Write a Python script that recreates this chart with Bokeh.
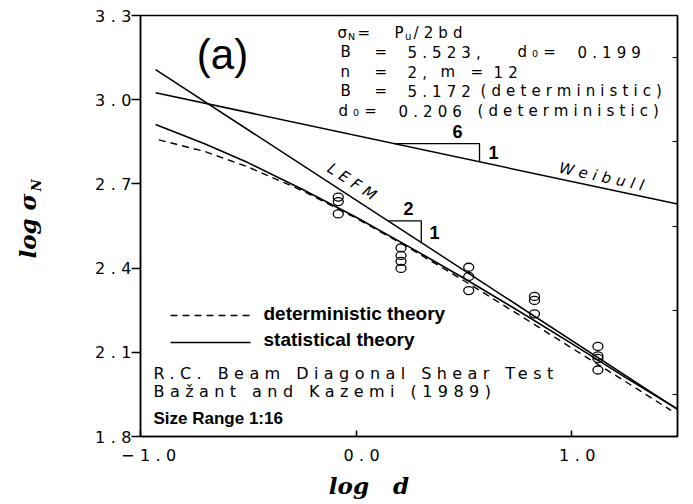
import numpy as np
from bokeh.plotting import figure
from bokeh.models import Range1d, FixedTicker, LinearAxis, CustomJS, PrintfTickFormatter
from bokeh.core.properties import value
from bokeh.document import Document
from bokeh.embed import file_html
from bokeh.resources import INLINE

# ---- test results: R.C. beam diagonal shear (Bazant & Kazemi 1989) ----
log_d_tests = [-0.083, -0.083, -0.083,
               0.208, 0.208, 0.208, 0.208,
               0.522, 0.522, 0.522,
               0.827, 0.827, 0.827,
               1.121, 1.121, 1.121, 1.121]
log_sigma_tests = [2.653, 2.637, 2.593,
                   2.472, 2.445, 2.424, 2.399,
                   2.403, 2.370, 2.320,
                   2.299, 2.285, 2.237,
                   2.121, 2.087, 2.078, 2.037]

# ---- theory curves ----
stat_log_d = [-0.93, -0.70, -0.50, -0.25, 0.00, 0.25, 0.50, 0.75, 1.00, 1.25, 1.49]
stat_log_sigma = [2.912, 2.842, 2.775, 2.681, 2.581, 2.474, 2.364, 2.249, 2.131, 2.010, 1.898]

det_log_d = [-0.915, -0.70, -0.50, -0.25, 0.00, 0.25, 0.50, 0.75, 1.00, 1.25, 1.46]
det_log_sigma = [2.857, 2.815, 2.760, 2.676, 2.578, 2.470, 2.355, 2.236, 2.115, 1.995, 1.893]

lefm_log_d = [-0.93, 1.49]
lefm_log_sigma = [3.107, 1.897]

weibull_log_d = [-0.93, 1.49]
weibull_log_sigma = [3.025, 2.628]

x_ticks = [-1.0, 0.0, 1.0]
x_tick_labels = {-1.0: "\u22121.0", 0.0: "0.0", 1.0: "1.0"}
y_ticks = [1.8, 2.1, 2.4, 2.7, 3.0, 3.3]
right_ticks = [1.95, 2.25, 2.55, 2.85, 3.15]

# ---- frame geometry (pixels) and pixel -> data helpers for annotations ----
X0, X1, Y0, Y1 = -1.0, 1.49, 1.8, 3.3
W, H = 693, 504
FL, FR, FT, FB = 140, 677, 15, 436


def dx(px):
    return X0 + (px - FL) * (X1 - X0) / (FR - FL)


def dy(py):
    return Y1 - (py - FT) * (Y1 - Y0) / (FB - FT)


p = figure(width=W, height=H, x_range=Range1d(X0, X1), y_range=Range1d(Y0, Y1),
           output_backend="svg", toolbar_location=None,
           min_border_left=FL, min_border_right=W - FR,
           min_border_top=FT, min_border_bottom=H - FB)
p.background_fill_color = "white"
p.border_fill_color = "white"
p.xgrid.visible = False
p.ygrid.visible = False
p.outline_line_color = "black"
p.outline_line_width = 1.5

SPACED = "DejaVu Sans"
TITLE_FONT = "DejaVu Serif"
NBSP = "\u00a0"

xa = p.xaxis[0]
xa.ticker = FixedTicker(ticks=x_ticks)
xa.formatter = PrintfTickFormatter(format="%.1f")
xa.major_label_overrides = x_tick_labels
xa.major_tick_in = 6
xa.major_tick_out = 0
xa.minor_tick_line_color = None
xa.axis_line_width = 1.5
xa.major_tick_line_width = 1.5
xa.major_label_text_font = SPACED
xa.major_label_text_font_size = "16px"
xa.major_label_text_color = "black"
xa.major_label_standoff = 12
# x title, nudged left of the frame centre by trailing no-break spaces
xa.axis_label = "log" + NBSP * 3 + "d" + NBSP * 10
xa.axis_label_text_font = TITLE_FONT
xa.axis_label_text_font_style = "bold italic"
xa.axis_label_text_font_size = "23px"
xa.axis_label_text_color = "black"
xa.axis_label_standoff = 8

# inner y axis: ticks, tick labels and the subscript of the title
ya = p.yaxis[0]
ya.ticker = FixedTicker(ticks=y_ticks)
ya.formatter = PrintfTickFormatter(format="%.1f")
ya.major_tick_in = 0
ya.major_tick_out = 9
ya.minor_tick_line_color = None
ya.axis_line_width = 1.5
ya.major_tick_line_width = 1.5
ya.major_label_text_font = SPACED
ya.major_label_text_font_size = "16px"
ya.major_label_text_color = "black"
ya.major_label_standoff = 11
ya.axis_label = NBSP * 18 + "N"
ya.axis_label_text_font = TITLE_FONT
ya.axis_label_text_font_style = "bold italic"
ya.axis_label_text_font_size = "13px"
ya.axis_label_text_color = "black"
ya.axis_label_standoff = 48

# outer y axis: carries only the main part of the title, pulled in next to the subscript
y_title = LinearAxis(ticker=FixedTicker(ticks=[]), major_tick_in=0, major_tick_out=0,
                     minor_tick_line_color=None, axis_line_color=None,
                     major_label_standoff=0, axis_label="log \u03c3",
                     axis_label_text_font=TITLE_FONT, axis_label_text_font_style="bold italic",
                     axis_label_text_font_size="23px", axis_label_text_color="black",
                     axis_label_standoff=-14)
p.add_layout(y_title, "left")

ra = LinearAxis(ticker=FixedTicker(ticks=right_ticks), major_tick_in=5, major_tick_out=0,
                minor_tick_line_color=None, major_label_text_color=None,
                major_label_overrides={t: "" for t in right_ticks},
                major_label_standoff=0, axis_line_width=1.5, major_tick_line_width=1.2)
p.add_layout(ra, "right")

# ---- curves ----
p.line(lefm_log_d, lefm_log_sigma, line_color="black", line_width=1.5)
p.line(weibull_log_d, weibull_log_sigma, line_color="black", line_width=1.5)
p.line(stat_log_d, stat_log_sigma, line_color="black", line_width=1.6)
p.line(det_log_d, det_log_sigma, line_color="black", line_width=1.4, line_dash="7 5")

# slope triangles on the LEFM (2:1) and Weibull (6:1) asymptotes
lx = [0.147, 0.302]
ly_top = float(np.interp(lx[0], lefm_log_d, lefm_log_sigma))
ly_bot = float(np.interp(lx[1], lefm_log_d, lefm_log_sigma))
p.line([lx[0], lx[1], lx[1]], [ly_top, ly_top, ly_bot], line_color="black", line_width=1.3)

wx = [0.178, 0.572]
wy_top = float(np.interp(wx[0], weibull_log_d, weibull_log_sigma))
wy_bot = float(np.interp(wx[1], weibull_log_d, weibull_log_sigma))
p.line([wx[0], wx[1], wx[1]], [wy_top, wy_top, wy_bot], line_color="black", line_width=1.3)

# ---- test points ----
p.ellipse(x=log_d_tests, y=log_sigma_tests, width=10, height=8,
          width_units="screen", height_units="screen",
          fill_color=None, line_color="black", line_width=1.3)


def put(px_x, px_y, txt, size, font=SPACED, style="normal", align="left",
        baseline="middle", angle=0.0):
    p.text(x=[dx(px_x)], y=[dy(px_y)], text=[txt], text_font=value(font),
           text_font_size=f"{size}px", text_font_style=style, text_color="black",
           text_align=align, text_baseline=baseline, angle=angle)


# panel tag
put(222, 54, "(a)", 42, font="Liberation Sans", align="center")

# parameter block
put(337, 32, "\u03c3", 15)
put(347.5, 36, "N", 9.5)
put(357, 32, "=", 15)
put(394, 32, "P", 15)
put(404.5, 36, "u", 10)
put(413, 32, "/2bd", 15)

put(340, 51.5, "B", 15)
put(374, 51.5, "=", 15)
put(407, 51.5, "5.523,", 15)
put(517, 51.5, "d\u2080=", 15)
put(577, 51.5, "0.199", 15)

put(340, 71, "n", 15)
put(374, 71, "=", 15)
put(407, 71, "2,", 15)
put(440, 71, "m", 15)
put(470, 71, "=", 15)
put(493, 71, "12", 15)

put(340, 90.5, "B", 15)
put(374, 90.5, "=", 15)
put(407, 90.5, "5.172", 15)
put(480, 90.5, "(deterministic)", 15)

put(338, 110, "d\u2080=", 15)
put(398, 110, "0.206", 15)
put(477, 110, "(deterministic)", 15)

# slope labels
put(457, 131, "6", 18, font="Liberation Sans", style="bold", align="center")
put(493, 152, "1", 18, font="Liberation Sans", style="bold", align="center")
put(408, 208, "2", 18, font="Liberation Sans", style="bold", align="center")
put(434, 232, "1", 18, font="Liberation Sans", style="bold", align="center")

# curve names
put(345, 177, "LEFM", 15, style="italic", align="center", angle=-np.radians(33.0))
put(586, 173, "Weibull", 15, style="italic", align="center", angle=-np.radians(12.0))

# legend
p.line([dx(170), dx(250)], [dy(315), dy(315)], line_color="black", line_width=1.4, line_dash="7 5")
p.line([dx(170), dx(250)], [dy(342), dy(342)], line_color="black", line_width=1.6)
put(263, 313, "deterministic theory", 19, font="Liberation Sans", style="bold")
put(263, 339, "statistical theory", 19, font="Liberation Sans", style="bold")

# source notes
put(153, 373, "R.C. Beam Diagonal Shear Test", 16)
put(153, 390.5, "Ba\u017eant and Kazemi (1989)", 16)
put(153, 418, "Size Range 1:16", 17, font="Liberation Sans", style="bold")

# the typewriter-style lettering is widely tracked
TRACKING = """
function gather(root, out) {
  for (const el of root.querySelectorAll("*")) {
    if (el.shadowRoot) gather(el.shadowRoot, out);
    if (el.localName === "text") out.push(el);
  }
}
function track() {
  const found = [];
  gather(document, found);
  for (const t of found) {
    const fam = (t.getAttribute("font-family") || "") + " " + ((t.style && t.style.fontFamily) || "");
    if (fam.includes("DejaVu Sans")) t.setAttribute("letter-spacing", "0.34em");
  }
}
track();
let n = 0;
const timer = setInterval(() => { track(); if (++n > 80) clearInterval(timer); }, 50);
"""

doc = Document()
doc.add_root(p)
doc.js_on_event("document_ready", CustomJS(code=TRACKING))

open("out.html", "w", encoding="utf-8").write(file_html(p, INLINE))
